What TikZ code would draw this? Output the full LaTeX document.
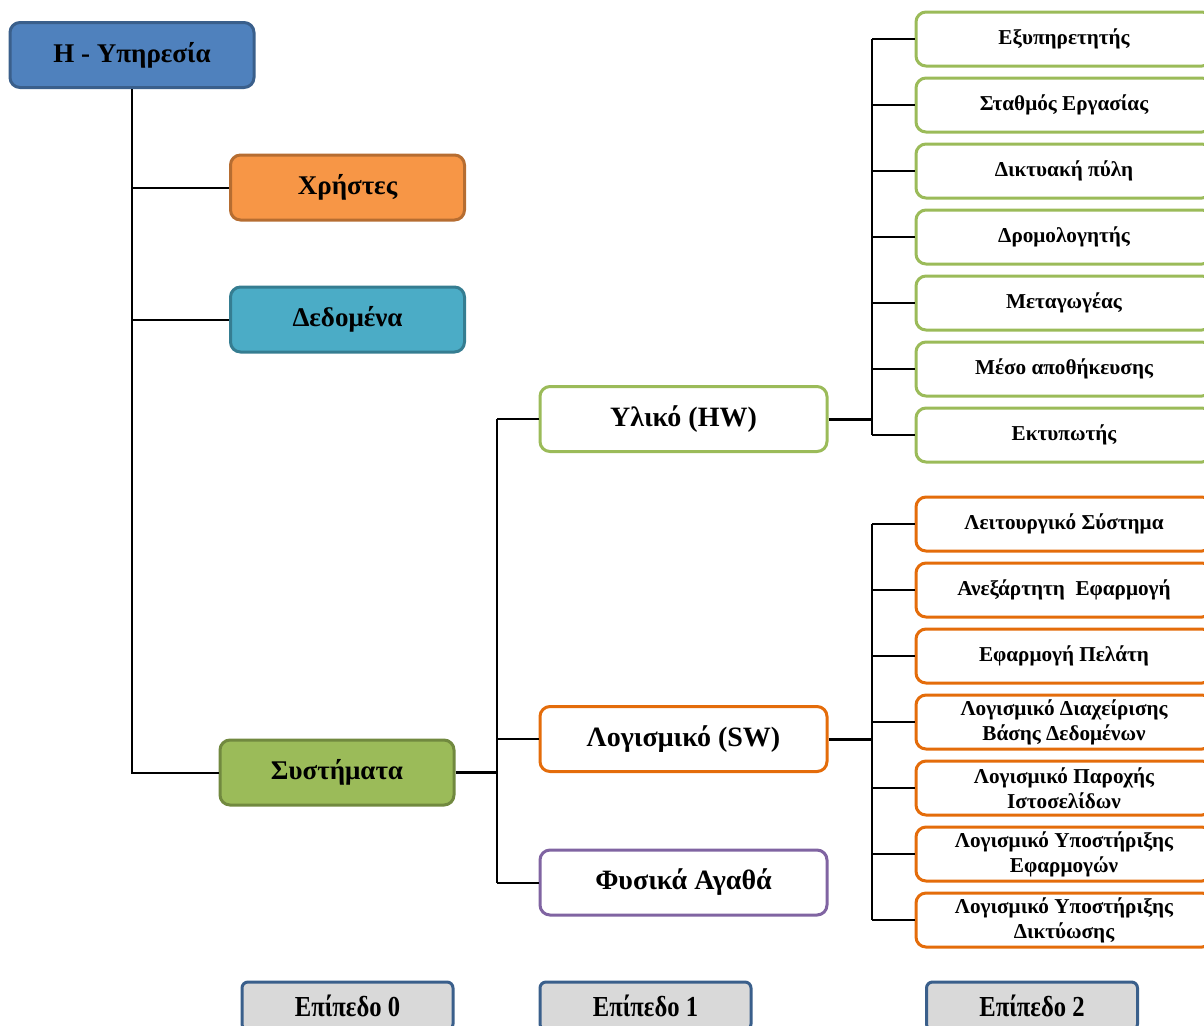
\documentclass[tikz,border=0pt]{standalone}
\usepackage{fontspec}
\setmainfont{Liberation Serif}
\newfontfamily\narrowserif{Liberation Serif}[FakeStretch=0.85]
\definecolor{srvblue}{HTML}{4F81BD}
\definecolor{srvline}{HTML}{3A5F8B}
\definecolor{usrfill}{HTML}{F79646}
\definecolor{usrline}{HTML}{B66D31}
\definecolor{datfill}{HTML}{4BACC6}
\definecolor{datline}{HTML}{357D91}
\definecolor{sysfill}{HTML}{9BBB59}
\definecolor{sysline}{HTML}{71893F}
\definecolor{hwline}{HTML}{9BBB59}
\definecolor{swline}{HTML}{E46C0A}
\definecolor{phyline}{HTML}{8064A2}
\definecolor{lvfill}{HTML}{D9D9D9}
\begin{document}
\begin{tikzpicture}[x=0.5pt, y=-0.5pt,
    topbox/.style={draw, rounded corners=5pt, line width=1.5pt, minimum width=117pt, minimum height=32.5pt, font=\fontsize{13.5}{16}\selectfont\bfseries},
    midbox/.style={draw, fill=white, rounded corners=5pt, line width=1.5pt, minimum width=143.5pt, minimum height=32.5pt, font=\fontsize{14}{16}\selectfont\bfseries},
    leafbox/.style={draw, fill=white, rounded corners=5pt, line width=1.5pt, minimum width=148pt, minimum height=27pt, align=center, inner sep=1pt, font=\fontsize{10.6}{12.5}\selectfont\bfseries},
    lvbox/.style={draw=srvline, fill=lvfill, rounded corners=3pt, line width=1.5pt, minimum width=105.5pt, minimum height=24pt, font=\fontsize{14.5}{16}\narrowserif\bfseries},
    link/.style={line width=1pt},
    trunk/.style={line width=1.5pt}]
\clip (0,0) rectangle (1204,1025);

% level 0
\node[topbox, fill=srvblue, draw=srvline, minimum width=122pt] (srv) at (132,55) {Η - Υπηρεσία};
\node[topbox, fill=usrfill, draw=usrline] (usr) at (347.5,187.5) {Χρήστες};
\node[topbox, fill=datfill, draw=datline] (dat) at (347.5,319.5) {Δεδομένα};
\node[topbox, fill=sysfill, draw=sysline] (sys) at (337,772.5) {Συστήματα};

% level 1
\node[midbox, draw=hwline] (hw) at (683.5,419) {Υλικό (HW)};
\node[midbox, draw=swline] (sw) at (683.5,739) {Λογισμικό (SW)};
\node[midbox, draw=phyline] (phy) at (683.5,882.5) {Φυσικά Αγαθά};

% level 2
\foreach \y/\name/\txt in {39/hwa/Εξυπηρετητής, 105/hwb/Σταθμός Εργασίας, 171/hwc/Δικτυακή πύλη,
    237/hwd/Δρομολογητής, 303/hwe/Μεταγωγέας, 369/hwf/Μέσο αποθήκευσης, 435/hwg/Εκτυπωτής}
{
    \node[leafbox, draw=hwline] (\name) at (1064,\y) {\txt};
}
\foreach \y/\name/\txt in {524/swa/{Λειτουργικό Σύστημα}, 590/swb/{Ανεξάρτητη\ \ Εφαρμογή}, 656/swc/{Εφαρμογή Πελάτη},
    722/swd/{Λογισμικό Διαχείρισης\\Βάσης Δεδομένων}, 788/swe/{Λογισμικό Παροχής\\Ιστοσελίδων},
    854/swf/{Λογισμικό Υποστήριξης\\Εφαρμογών}, 920/swg/{Λογισμικό Υποστήριξης\\Δικτύωσης}}
{
    \node[leafbox, draw=swline] (\name) at (1064,\y) {\txt};
}

% levels legend
\node[lvbox] (lv0) at (347.5,1006) {Επίπεδο 0};
\node[lvbox] (lv1) at (645.5,1006) {Επίπεδο 1};
\node[lvbox] (lv2) at (1032,1006) {Επίπεδο 2};

% connectors
\draw[link] (srv.south) -- (srv.south |- sys.west) -- (sys.west);
\foreach \n in {usr,dat}
{
    \draw[link] (srv.south |- \n.west) -- (\n.west);
}

\coordinate (bus1) at (497,0);
\draw[trunk] (sys.east) -- (sys.east -| bus1);
\draw[link] (bus1 |- hw.west) -- (bus1 |- phy.west);
\foreach \n in {hw,sw,phy}
{
    \draw[link] (bus1 |- \n.west) -- (\n.west);
}

\coordinate (bus2) at (872,0);
\draw[trunk] (hw.east) -- (hw.east -| bus2);
\draw[link] (bus2 |- hwa.west) -- (bus2 |- hwg.west);
\foreach \n in {hwa,hwb,hwc,hwd,hwe,hwf,hwg}
{
    \draw[link] (bus2 |- \n.west) -- (\n.west);
}

\draw[trunk] (sw.east) -- (sw.east -| bus2);
\draw[link] (bus2 |- swa.west) -- (bus2 |- swg.west);
\foreach \n in {swa,swb,swc,swd,swe,swf,swg}
{
    \draw[link] (bus2 |- \n.west) -- (\n.west);
}
\end{tikzpicture}
\end{document}
